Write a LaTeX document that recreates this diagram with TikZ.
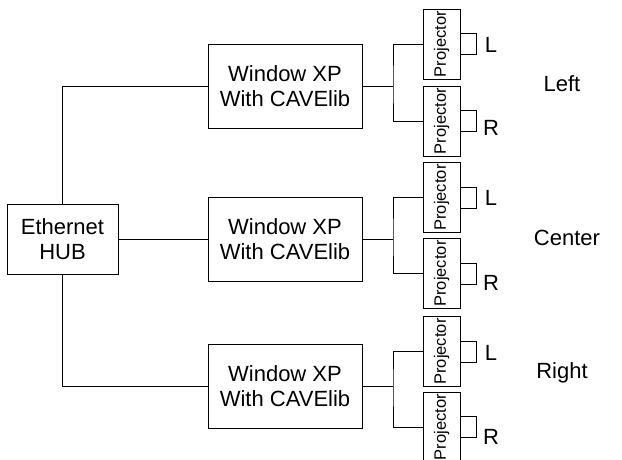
\documentclass[tikz,border=0pt]{standalone}
\usepackage{fontspec}
\setmainfont{Liberation Sans}
\usetikzlibrary{positioning}
\tikzset{
  unit/.style={draw, line width=0.9pt, minimum width=154pt, minimum height=84pt, align=center, font=\fontsize{22}{25}\selectfont},
  hubbox/.style={draw, line width=0.9pt, minimum width=111pt, minimum height=70pt, align=center, font=\fontsize{22}{25}\selectfont},
  proj/.style={draw, line width=0.9pt, minimum width=37pt, minimum height=70pt, inner sep=0pt, font=\fontsize{16.5}{18}\selectfont},
  lens/.style={draw, line width=0.8pt, minimum width=16pt, minimum height=21pt, inner sep=0pt, anchor=west},
  eye/.style={font=\fontsize{22}{25}\selectfont},
  wire/.style={line width=0.8pt}
}
\begin{document}
\begin{tikzpicture}[x=1pt, y=-1pt]
        \useasboundingbox (0,0) rectangle (622,459);
        % hub and the three PCs
        \node[hubbox] (hub) at (62.5,239) {Ethernet\\HUB};
        \node[unit] (win1) at (285,86) {Window XP\\With CAVElib};
        \node[unit] (win2) at (285,239) {Window XP\\With CAVElib};
        \node[unit] (win3) at (285,386) {Window XP\\With CAVElib};
        \draw[wire] (hub.north) |- (win1.west);
        \draw[wire] (hub.east) -- (win2.west);
        \draw[wire] (hub.south) |- (win3.west);
        % left wall
        \node[proj] (p1l) at (441.5,44) {\rotatebox{90}{Projector}};
        \node[proj] (p1r) at (441.5,121) {\rotatebox{90}{Projector}};
        \node[lens] (s1l) at (p1l.east) {}; \node[lens] (s1r) at (p1r.east) {};
        \node[eye] (t1l) at (491,45) {L}; \node[eye] (t1r) at (491,128) {R};
        \coordinate (j1) at (393,86);
        \draw[wire] (win1.east) -- (j1);
        \draw[wire] (p1l.west) -| (j1) |- (p1r.west);
        \node[eye] (left) at (562,84) {Left};
        % center wall
        \node[proj] (p2l) at (441.5,197.5) {\rotatebox{90}{Projector}};
        \node[proj] (p2r) at (441.5,273.5) {\rotatebox{90}{Projector}};
        \node[lens] (s2l) at (p2l.east) {}; \node[lens] (s2r) at (p2r.east) {};
        \node[eye] (t2l) at (491,198) {L}; \node[eye] (t2r) at (491,283) {R};
        \coordinate (j2) at (393,239);
        \draw[wire] (win2.east) -- (j2);
        \draw[wire] (p2l.west) -| (j2) |- (p2r.west);
        \node[eye] (center) at (567,238) {Center};
        % right wall
        \node[proj] (p3l) at (441.5,351.5) {\rotatebox{90}{Projector}};
        \node[proj] (p3r) at (441.5,427) {\rotatebox{90}{Projector}};
        \node[lens] (s3l) at (p3l.east) {}; \node[lens] (s3r) at (p3r.east) {};
        \node[eye] (t3l) at (491,353) {L}; \node[eye] (t3r) at (491,437) {R};
        \coordinate (j3) at (393,386);
        \draw[wire] (win3.east) -- (j3);
        \draw[wire] (p3l.west) -| (j3) |- (p3r.west);
        \node[eye] (right) at (562,373) {Right};
\end{tikzpicture}
\end{document}
